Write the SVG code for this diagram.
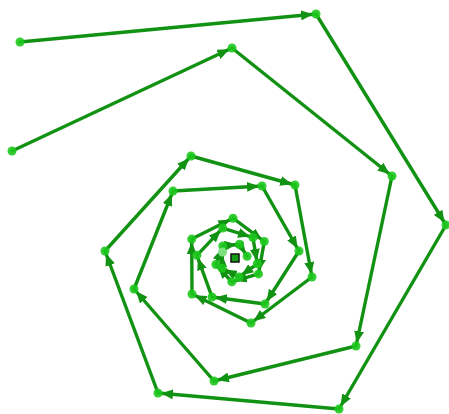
<svg xmlns="http://www.w3.org/2000/svg" width="449" height="414" viewBox="0 0 449 414">
<style>
.e{stroke:#129212;stroke-width:3.4;stroke-linecap:round;fill:none;marker-end:url(#ah)}
.n{fill:#1ec81e;fill-opacity:0.9}
.nl{fill:#7ee07e}
.c{fill:#159a15;stroke:#111;stroke-width:1.5}
</style>
<defs>
<marker id="ah" markerUnits="userSpaceOnUse" markerWidth="12" markerHeight="10" refX="15" refY="5" orient="auto">
<path d="M0,0 L12,5 L0,10 z" fill="#129212"/>
</marker>
</defs>
<rect width="449" height="414" fill="#fff"/>
<g id="connectors">
<line class="e" x1="20" y1="42" x2="316" y2="14"/>
<line class="e" x1="316" y1="14" x2="446" y2="225"/>
<line class="e" x1="446" y1="225" x2="339" y2="409"/>
<line class="e" x1="339" y1="409" x2="158" y2="393"/>
<line class="e" x1="158" y1="393" x2="105" y2="251"/>
<line class="e" x1="105" y1="251" x2="191" y2="156"/>
<line class="e" x1="191" y1="156" x2="295" y2="185"/>
<line class="e" x1="295" y1="185" x2="312" y2="277"/>
<line class="e" x1="312" y1="277" x2="251" y2="323"/>
<line class="e" x1="251" y1="323" x2="192" y2="294"/>
<line class="e" x1="192" y1="294" x2="191.7" y2="239.1"/>
<line class="e" x1="191.7" y1="239.1" x2="233" y2="218.2"/>
<line class="e" x1="233" y1="218.2" x2="264.3" y2="241.5"/>
<line class="e" x1="264.3" y1="241.5" x2="258.5" y2="273.9"/>
<line class="e" x1="258.5" y1="273.9" x2="231.8" y2="281.8"/>
<line class="e" x1="231.8" y1="281.8" x2="215.9" y2="264.5"/>
<line class="e" x1="215.9" y1="264.5" x2="222.8" y2="246"/>
<line class="e" x1="222.8" y1="246" x2="239.5" y2="244.3"/>
<line class="e" x1="239.5" y1="244.3" x2="247.1" y2="256.2"/>
<line class="e" x1="12" y1="151" x2="232" y2="48"/>
<line class="e" x1="232" y1="48" x2="392" y2="176"/>
<line class="e" x1="392" y1="176" x2="356" y2="346"/>
<line class="e" x1="356" y1="346" x2="214" y2="381"/>
<line class="e" x1="214" y1="381" x2="134" y2="289"/>
<line class="e" x1="134" y1="289" x2="173" y2="191"/>
<line class="e" x1="173" y1="191" x2="262" y2="186"/>
<line class="e" x1="262" y1="186" x2="299" y2="251"/>
<line class="e" x1="299" y1="251" x2="265" y2="304"/>
<line class="e" x1="265" y1="304" x2="212" y2="297"/>
<line class="e" x1="212" y1="297" x2="196.9" y2="255.3"/>
<line class="e" x1="196.9" y1="255.3" x2="222.7" y2="228.1"/>
<line class="e" x1="222.7" y1="228.1" x2="252.9" y2="237.5"/>
<line class="e" x1="252.9" y1="237.5" x2="257.3" y2="263.8"/>
<line class="e" x1="257.3" y1="263.8" x2="239" y2="277"/>
<line class="e" x1="239" y1="277" x2="222.1" y2="268.2"/>
<line class="e" x1="222.1" y1="268.2" x2="222.5" y2="252.1"/>
</g>
<g id="a0"><circle class="n" cx="20" cy="42" r="4.5"/></g>
<g id="a1"><circle class="n" cx="316" cy="14" r="4.5"/></g>
<g id="a2"><circle class="n" cx="446" cy="225" r="4.5"/></g>
<g id="a3"><circle class="n" cx="339" cy="409" r="4.5"/></g>
<g id="a4"><circle class="n" cx="158" cy="393" r="4.5"/></g>
<g id="a5"><circle class="n" cx="105" cy="251" r="4.5"/></g>
<g id="a6"><circle class="n" cx="191" cy="156" r="4.5"/></g>
<g id="a7"><circle class="n" cx="295" cy="185" r="4.5"/></g>
<g id="a8"><circle class="n" cx="312" cy="277" r="4.5"/></g>
<g id="a9"><circle class="n" cx="251" cy="323" r="4.5"/></g>
<g id="a10"><circle class="n" cx="192" cy="294" r="4.5"/></g>
<g id="a11"><circle class="n" cx="191.7" cy="239.1" r="4.5"/></g>
<g id="a12"><circle class="n" cx="233" cy="218.2" r="4.5"/></g>
<g id="a13"><circle class="n" cx="264.3" cy="241.5" r="4.5"/></g>
<g id="a14"><circle class="n" cx="258.5" cy="273.9" r="4.5"/></g>
<g id="a15"><circle class="n" cx="231.8" cy="281.8" r="4.5"/></g>
<g id="a16"><circle class="n" cx="215.9" cy="264.5" r="4.5"/></g>
<g id="a17"><circle class="n" cx="222.8" cy="246" r="4.5"/></g>
<g id="a18"><circle class="n" cx="239.5" cy="244.3" r="4.5"/></g>
<g id="a19"><circle class="n" cx="247.1" cy="256.2" r="4.5"/></g>
<g id="b0"><circle class="n" cx="12" cy="151" r="4.5"/></g>
<g id="b1"><circle class="n" cx="232" cy="48" r="4.5"/></g>
<g id="b2"><circle class="n" cx="392" cy="176" r="4.5"/></g>
<g id="b3"><circle class="n" cx="356" cy="346" r="4.5"/></g>
<g id="b4"><circle class="n" cx="214" cy="381" r="4.5"/></g>
<g id="b5"><circle class="n" cx="134" cy="289" r="4.5"/></g>
<g id="b6"><circle class="n" cx="173" cy="191" r="4.5"/></g>
<g id="b7"><circle class="n" cx="262" cy="186" r="4.5"/></g>
<g id="b8"><circle class="n" cx="299" cy="251" r="4.5"/></g>
<g id="b9"><circle class="n" cx="265" cy="304" r="4.5"/></g>
<g id="b10"><circle class="n" cx="212" cy="297" r="4.5"/></g>
<g id="b11"><circle class="n" cx="196.9" cy="255.3" r="4.5"/></g>
<g id="b12"><circle class="n" cx="222.7" cy="228.1" r="4.5"/></g>
<g id="b13"><circle class="n" cx="252.9" cy="237.5" r="4.5"/></g>
<g id="b14"><circle class="n" cx="257.3" cy="263.8" r="4.5"/></g>
<g id="b15"><circle class="n" cx="239" cy="277" r="4.5"/></g>
<g id="b16"><circle class="n" cx="222.1" cy="268.2" r="4.5"/></g>
<g id="b17"><circle class="nl" cx="222.5" cy="252.1" r="4.5"/></g>
<g id="center"><rect class="c" x="231" y="254" width="8" height="8"/></g>
</svg>
